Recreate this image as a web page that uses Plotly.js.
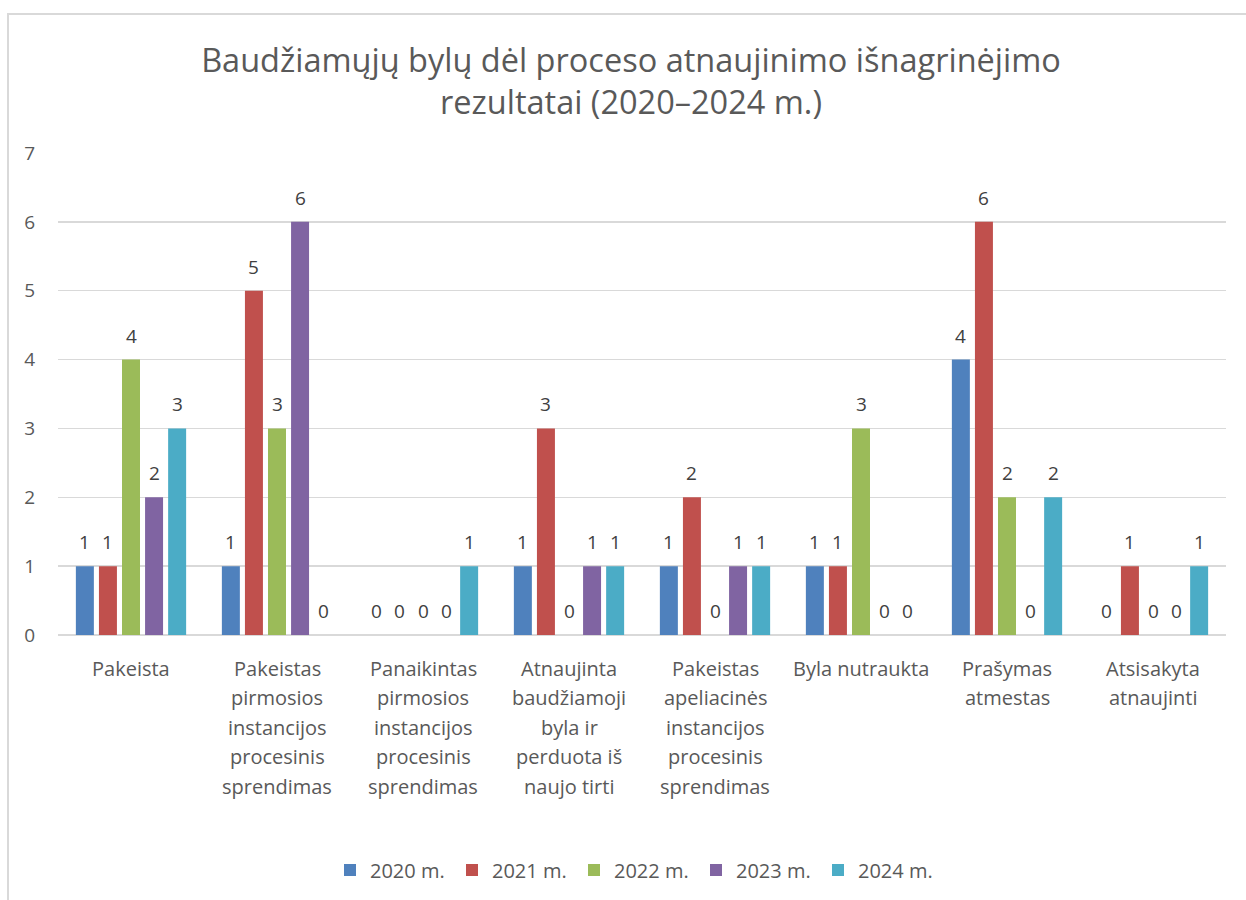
<!DOCTYPE html>
<html>
<head>
<meta charset="utf-8">
<script src="https://cdn.plot.ly/plotly-3.0.1.min.js"></script>
<style>
  html, body { margin: 0; padding: 0; background: #ffffff; overflow: hidden; }
  #wrap { position: relative; width: 1246px; height: 900px; overflow: hidden; }
  #frame { position: absolute; left: 7px; top: 13px; width: 1300px; height: 1000px; border: 2px solid #d9d9d9; box-sizing: border-box; }
  #chart { position: absolute; left: 0; top: 0; width: 1246px; height: 900px; }
</style>
</head>
<body>
<div id="wrap">
  <div id="frame"></div>
  <div id="chart"></div>
</div>
<script>
// ---- Data ----
const categories = [
  "Pakeista",
  "Pakeistas pirmosios instancijos procesinis sprendimas",
  "Panaikintas pirmosios instancijos procesinis sprendimas",
  "Atnaujinta baudžiamoji byla ir perduota iš naujo tirti",
  "Pakeistas apeliacinės instancijos procesinis sprendimas",
  "Byla nutraukta",
  "Prašymas atmestas",
  "Atsisakyta atnaujinti"
];
const categoryLabelLines = [
  ["Pakeista"],
  ["Pakeistas", "pirmosios", "instancijos", "procesinis", "sprendimas"],
  ["Panaikintas", "pirmosios", "instancijos", "procesinis", "sprendimas"],
  ["Atnaujinta", "baudžiamoji", "byla ir", "perduota iš", "naujo tirti"],
  ["Pakeistas", "apeliacinės", "instancijos", "procesinis", "sprendimas"],
  ["Byla nutraukta"],
  ["Prašymas", "atmestas"],
  ["Atsisakyta", "atnaujinti"]
];
const seriesNames = ["2020 m.", "2021 m.", "2022 m.", "2023 m.", "2024 m."];
const v2020 = [1, 1, 0, 1, 1, 1, 4, 0];
const v2021 = [1, 5, 0, 3, 2, 1, 6, 1];
const v2022 = [4, 3, 0, 0, 0, 3, 2, 0];
const v2023 = [2, 6, 0, 1, 1, 0, 0, 0];
const v2024 = [3, 0, 1, 1, 1, 0, 2, 1];
const seriesValues = [v2020, v2021, v2022, v2023, v2024];
const yTicks = [0, 1, 2, 3, 4, 5, 6, 7];
const titleText = "Baudžiamųjų bylų dėl proceso atnaujinimo išnagrinėjimo<br>rezultatai (2020–2024 m.)";

// ---- Style ----
const colors = ["#4f81bd", "#c0504d", "#9bbb59", "#8064a2", "#4bacc6"];
const FONT = "'Open Sans', Lato, 'DejaVu Sans', sans-serif";
const W = 1246, H = 900;
const M = { l: 58, r: 20, t: 153, b: 265 };
const BARGAP = 0.21, BARGROUPGAP = 0.22;

const plotW = W - M.l - M.r;
const catW = plotW / categories.length;
const slot = catW * (1 - BARGAP) / seriesNames.length;

const traces = seriesNames.map((name, i) => ({
  type: "bar",
  name: name,
  x: categories,
  y: seriesValues[i],
  marker: { color: colors[i] },
  hoverinfo: "x+y+name"
}));

const annotations = [];
// data labels
seriesValues.forEach((vals, i) => {
  vals.forEach((v, j) => {
    annotations.push({
      x: categories[j], y: v, xref: "x", yref: "y",
      xshift: (i - (seriesNames.length - 1) / 2) * slot,
      yshift: 9,
      yanchor: "bottom", xanchor: "center",
      text: String(v), showarrow: false,
      font: { family: FONT, size: 19, color: "#404040" }
    });
  });
});
// category labels (multi-line, Excel-like spacing)
categoryLabelLines.forEach((lines, j) => {
  lines.forEach((line, k) => {
    annotations.push({
      x: categories[j], y: 0, xref: "x", yref: "paper",
      yshift: -(33 + k * 29.5),
      yanchor: "middle", xanchor: "center",
      text: line, showarrow: false,
      font: { family: FONT, size: 20, color: "#595959" }
    });
  });
});

const layout = {
  width: W, height: H,
  margin: M,
  paper_bgcolor: "rgba(0,0,0,0)",
  plot_bgcolor: "rgba(0,0,0,0)",
  font: { family: FONT, size: 19, color: "#595959" },
  title: {
    text: titleText,
    x: 631 / W, xref: "container", xanchor: "center",
    y: 1 - 72 / H, yref: "container", yanchor: "middle",
    font: { family: FONT, size: 32.5, color: "#595959" }
  },
  barmode: "group",
  bargap: BARGAP,
  bargroupgap: BARGROUPGAP,
  xaxis: {
    showticklabels: false,
    showgrid: false,
    zeroline: false,
    showline: false,
    ticks: ""
  },
  yaxis: {
    range: [0, 7],
    tickvals: yTicks,
    ticktext: yTicks.map(String),
    showgrid: true,
    gridcolor: "#d9d9d9",
    gridwidth: 1.5,
    zeroline: true,
    zerolinecolor: "#d9d9d9",
    zerolinewidth: 1.5,
    showline: false,
    ticks: "",
    ticklabelstandoff: 22,
    tickfont: { family: FONT, size: 19, color: "#595959" }
  },
  showlegend: true,
  legend: {
    orientation: "h",
    x: 635 / W, xref: "container", xanchor: "center",
    y: 1 - 870 / H, yref: "container", yanchor: "middle",
    font: { family: FONT, size: 20, color: "#595959" },
    entrywidth: 77,
    itemwidth: 30,
    traceorder: "normal"
  },
  annotations: annotations
};

Plotly.newPlot("chart", traces, layout, { displayModeBar: false, staticPlot: true });
</script>
</body>
</html>
